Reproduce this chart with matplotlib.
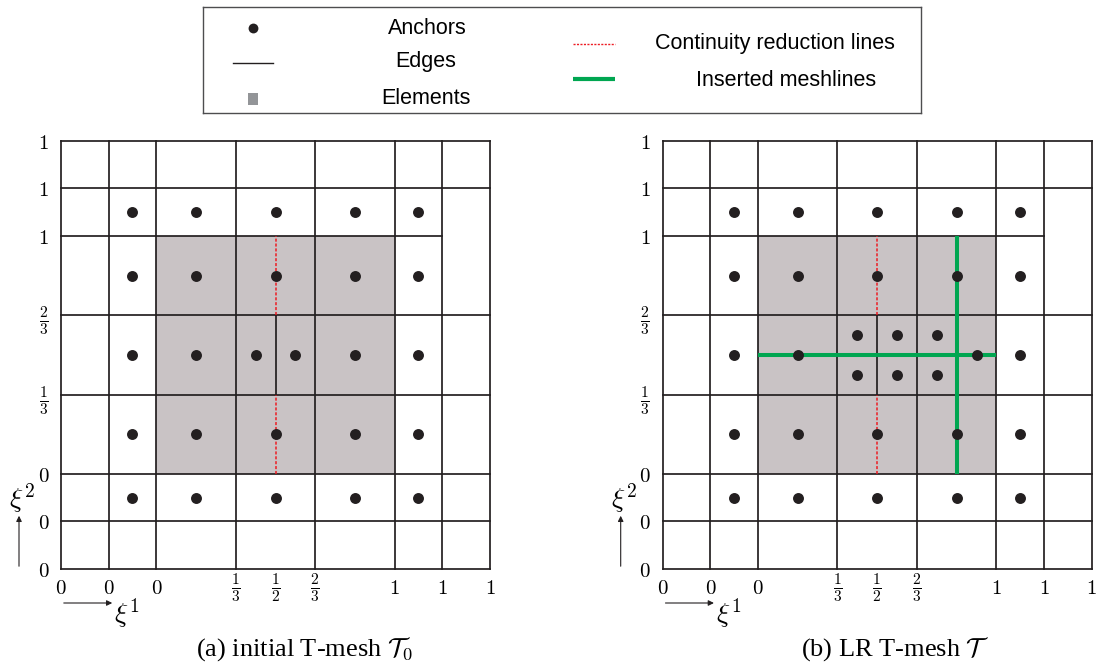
import matplotlib
matplotlib.use("Agg")
import matplotlib.pyplot as plt
from matplotlib.patches import Rectangle, FancyArrowPatch

plt.rcParams['mathtext.fontset'] = 'cm'

W, H = 1099, 669

# Knot lines in display units (repeated boundary knots are spread apart)
knot_pos = [-1.2, -0.6, 0.0, 1.0, 2.0, 3.0, 3.6, 4.2]
knot_labels = ['$0$', '$0$', '$0$', r'$\frac{1}{3}$', r'$\frac{2}{3}$', '$1$', '$1$', '$1$']
half_pos = 1.5
half_label = r'$\frac{1}{2}$'

# right end of each horizontal meshline (one line stops short)
h_line_end = [4.2, 4.2, 4.2, 4.2, 4.2, 3.6, 4.2, 4.2]

# element region (support of the refined area)
elem_x = (0.0, 3.0)
elem_y = (0.0, 3.0)

# split edge at xi1 = 1/2: solid part and continuity reduction parts
split_solid = (1.0, 2.0)
split_dashed = [(0.0, 1.0), (2.0, 3.0)]

# inserted meshlines in the LR T-mesh
inserted_h = (1.5, 0.0, 3.0)   # y, x0, x1
inserted_v = (2.5, 0.0, 3.0)   # x, y0, y1

# anchors
anchors_a_x = [-0.3, 0.5, 1.5, 2.5, 3.3,
               -0.3, 0.5, 1.5, 2.5, 3.3,
               -0.3, 0.5, 1.25, 1.75, 2.5, 3.3,
               -0.3, 0.5, 1.5, 2.5, 3.3,
               -0.3, 0.5, 1.5, 2.5, 3.3]
anchors_a_y = [3.3] * 5 + [2.5] * 5 + [1.5] * 6 + [0.5] * 5 + [-0.3] * 5

anchors_b_x = [-0.3, 0.5, 1.5, 2.5, 3.3,
               -0.3, 0.5, 1.5, 2.5, 3.3,
               1.25, 1.75, 2.25,
               -0.3, 0.5, 2.75, 3.3,
               1.25, 1.75, 2.25,
               -0.3, 0.5, 1.5, 2.5, 3.3,
               -0.3, 0.5, 1.5, 2.5, 3.3]
anchors_b_y = ([3.3] * 5 + [2.5] * 5 + [1.75] * 3 + [1.5] * 4 + [1.25] * 3
               + [0.5] * 5 + [-0.3] * 5)

captions = [r'(a) initial T-mesh $\mathcal{T}_0$', r'(b) LR T-mesh $\mathcal{T}$']

INK = '#231f20'
ELEM = '#c9c3c5'
RED = '#ed1c24'
GREEN = '#00a651'

fig = plt.figure(figsize=(W / 100, H / 100), dpi=100)


def px_axes(x0, x1, ytop, ybot):
    return fig.add_axes([x0 / W, 1 - ybot / H, (x1 - x0) / W, (ybot - ytop) / H])


def draw_mesh(ax, ax_x, ax_y, refined):
    lo, hi = knot_pos[0], knot_pos[-1]
    ax.set_xlim(lo, hi)
    ax.set_ylim(lo, hi)
    for s in ax.spines.values():
        s.set_visible(False)

    ax.add_patch(Rectangle((elem_x[0], elem_y[0]), elem_x[1] - elem_x[0],
                           elem_y[1] - elem_y[0], facecolor=ELEM,
                           edgecolor='none', zorder=0))
    for x in knot_pos:
        ax.plot([x, x], [lo, hi], color=INK, lw=1.25, clip_on=False, zorder=1,
                solid_capstyle='projecting')
    for y, xe in zip(knot_pos, h_line_end):
        ax.plot([lo, xe], [y, y], color=INK, lw=1.25, clip_on=False, zorder=1,
                solid_capstyle='projecting')
    ax.plot([half_pos, half_pos], split_solid, color=INK, lw=1.25, zorder=1)
    for y0, y1 in split_dashed:
        ax.plot([half_pos, half_pos], [y0, y1], color=RED, lw=1.1,
                linestyle=(0, (2.0, 1.2)), zorder=2)
    if refined:
        y, x0, x1 = inserted_h
        ax.plot([x0, x1], [y, y], color=GREEN, lw=2.9, zorder=3,
                solid_capstyle='butt')
        x, y0, y1 = inserted_v
        ax.plot([x, x], [y0, y1], color=GREEN, lw=2.9, zorder=3,
                solid_capstyle='butt')
        ax.scatter(anchors_b_x, anchors_b_y, s=62, color=INK, zorder=4,
                   linewidths=0)
    else:
        ax.scatter(anchors_a_x, anchors_a_y, s=62, color=INK, zorder=4,
                   linewidths=0)

    xt = knot_pos[:4] + [half_pos] + knot_pos[4:]
    xl = knot_labels[:4] + [half_label] + knot_labels[4:]
    ax.set_xticks(xt)
    ax.set_xticklabels(xl)
    ax.set_yticks(knot_pos)
    ax.set_yticklabels(knot_labels)
    ax.tick_params(axis='x', length=0, pad=13.5)
    ax.tick_params(axis='y', length=0, pad=12.6)
    for lab in ax.get_xticklabels():
        lab.set_verticalalignment('center')
        lab.set_fontsize(16 if 'frac' in lab.get_text() else 15)
    for lab in ax.get_yticklabels():
        lab.set_horizontalalignment('center')
        lab.set_fontsize(16 if 'frac' in lab.get_text() else 15)

    # parameter direction arrows
    x0p, x1p = ax_x
    ytop, ybot = ax_y
    fig.add_artist(FancyArrowPatch(
        (x0p / W, 1 - 603 / H), ((x0p + 54) / W, 1 - 603 / H),
        transform=fig.transFigure, arrowstyle='-|>', mutation_scale=8,
        lw=0.8, color=INK))
    fig.text((x0p + 53) / W, 1 - 613 / H, r'$\xi^1$', fontsize=20,
             ha='left', va='center')
    fig.add_artist(FancyArrowPatch(
        ((x0p - 42) / W, 1 - ybot / H), ((x0p - 42) / W, 1 - (ybot - 56) / H),
        transform=fig.transFigure, arrowstyle='-|>', mutation_scale=8,
        lw=0.8, color=INK))
    fig.text((x0p - 39) / W, 1 - 498 / H, r'$\xi^2$', fontsize=20,
             ha='center', va='center')


panels = [((61, 490), (140.7, 569), False, 305),
          ((662.7, 1091.7), (140.7, 569), True, 895)]
for (xr, yr, refined, cx), cap in zip(panels, captions):
    ax = px_axes(xr[0], xr[1], yr[0], yr[1])
    draw_mesh(ax, xr, yr, refined)
    fig.text(cx / W, 1 - 656 / H, cap, fontsize=19, ha='center',
             va='baseline', family='Liberation Serif')

# legend box
lg = px_axes(203, 921, 7, 113)
lg.set_xlim(203, 921)
lg.set_ylim(113, 7)
lg.set_xticks([])
lg.set_yticks([])
for s in lg.spines.values():
    s.set_linewidth(1.0)
    s.set_color('#4d4d4f')
sans = ['Liberation Sans', 'DejaVu Sans']
fs = 15.5
lg.scatter([253], [28], s=50, color=INK, linewidths=0)
lg.text(427, 28, 'Anchors', ha='center', va='center', fontsize=fs, family=sans)
lg.plot([233, 273], [63, 63], color=INK, lw=1.0)
lg.text(426, 62, 'Edges', ha='center', va='center', fontsize=fs, family=sans)
lg.add_patch(Rectangle((248, 93), 10, 12, facecolor='#939598', edgecolor='none'))
lg.text(426, 99, 'Elements', ha='center', va='center', fontsize=fs, family=sans)
lg.plot([573, 615], [44, 44], color=RED, lw=1.0, linestyle=(0, (1.5, 1.0)))
lg.text(775, 44, 'Continuity reduction lines', ha='center', va='center',
        fontsize=fs, family=sans)
lg.plot([573, 615], [79, 79], color=GREEN, lw=3.0, solid_capstyle='butt')
lg.text(786, 80, 'Inserted meshlines', ha='center', va='center',
        fontsize=fs, family=sans)

fig.savefig('out.png', dpi=100)
